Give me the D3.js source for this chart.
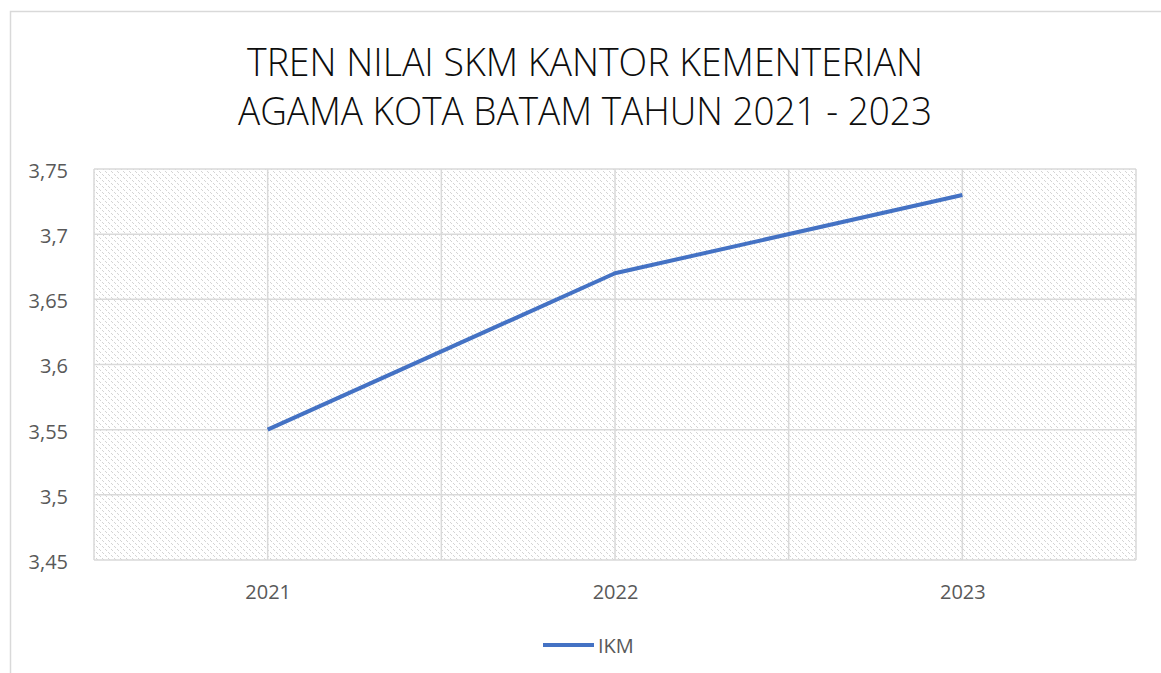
<!DOCTYPE html>
<html>
<head>
<meta charset="utf-8">
<script src="https://cdn.jsdelivr.net/npm/d3@7"></script>
<style>
  body { margin: 0; background: #fff; }
  text { font-family: "Open Sans", "Liberation Sans", sans-serif; }
</style>
</head>
<body>
<div id="chart"></div>
<script>
// data
var years = ["2021", "2022", "2023"];
var ikm = [3.55, 3.67, 3.73];
var yTicks = [3.45, 3.5, 3.55, 3.6, 3.65, 3.7, 3.75];
var titleLines = ["TREN NILAI SKM KANTOR KEMENTERIAN", "AGAMA KOTA BATAM TAHUN 2021 - 2023"];
var seriesName = "IKM";

var W = 1161, H = 673;
var plot = { left: 94, right: 1136, top: 169, bottom: 560 };

var svg = d3.select("#chart").append("svg")
    .attr("width", W)
    .attr("height", H);

// hatch pattern for plot background
var defs = svg.append("defs");
var pat = defs.append("pattern")
    .attr("id", "dots")
    .attr("width", 6).attr("height", 6)
    .attr("patternUnits", "userSpaceOnUse");
pat.append("rect").attr("width", 6).attr("height", 6).attr("fill", "#fff");
[[0, 0], [1, 1], [3, 3], [4, 4]].forEach(function(p) {
  pat.append("rect").attr("x", p[0]).attr("y", p[1]).attr("width", 1).attr("height", 1).attr("fill", "#d4d4d4");
});

// chart frame (goes off page on right/bottom)
svg.append("rect")
    .attr("x", 10.5).attr("y", 11.5)
    .attr("width", W + 20).attr("height", H + 20)
    .attr("fill", "none")
    .attr("stroke", "#d9d9d9")
    .attr("stroke-width", 1.5);

// title
svg.selectAll(".title")
    .data(titleLines)
    .enter().append("text")
    .attr("class", "title")
    .attr("x", 585)
    .attr("y", function(d, i) { return 76 + i * 49; })
    .attr("text-anchor", "middle")
    .attr("font-size", 38)
    .attr("font-weight", 300)
    .attr("fill", "#0d0d0d")
    .attr("textLength", function(d, i) { return i == 0 ? 676 : 694; })
    .attr("lengthAdjust", "spacingAndGlyphs")
    .text(function(d) { return d; });

var x = d3.scalePoint()
    .domain(years)
    .range([plot.left, plot.right])
    .padding(0.5);

var y = d3.scaleLinear()
    .domain([3.45, 3.75])
    .range([plot.bottom, plot.top]);

svg.append("rect")
    .attr("x", plot.left).attr("y", plot.top)
    .attr("width", plot.right - plot.left)
    .attr("height", plot.bottom - plot.top)
    .attr("fill", "url(#dots)");

// gridlines: horizontal
svg.append("g")
    .selectAll("line")
    .data(yTicks)
    .enter().append("line")
    .attr("x1", plot.left).attr("x2", plot.right)
    .attr("y1", function(d) { return y(d); })
    .attr("y2", function(d) { return y(d); })
    .attr("stroke", "#d9d9d9")
    .attr("stroke-width", 1.5);

// vertical gridlines at category centres and boundaries
var step = x.step();
var vlines = [plot.left];
years.forEach(function(d) { vlines.push(x(d)); vlines.push(x(d) + step / 2); });
svg.append("g")
    .selectAll("line")
    .data(vlines)
    .enter().append("line")
    .attr("x1", function(d) { return d; }).attr("x2", function(d) { return d; })
    .attr("y1", plot.top).attr("y2", plot.bottom)
    .attr("stroke", "#d9d9d9")
    .attr("stroke-width", 1.5);

// y axis
var yAxis = d3.axisLeft(y)
    .tickValues(yTicks)
    .tickSize(0)
    .tickPadding(26)
    .tickFormat(function(d) { return String(+d.toFixed(2)).replace(".", ","); });
var gy = svg.append("g")
    .attr("transform", "translate(" + plot.left + ",0)")
    .call(yAxis);
gy.select(".domain").remove();
gy.selectAll("text").attr("font-size", 20).attr("fill", "#595959").attr("dy", "0.42em")
    .style("font-family", "'Open Sans', sans-serif");

// x axis
var xAxis = d3.axisBottom(x).tickSize(0).tickPadding(25);
var gx = svg.append("g")
    .attr("transform", "translate(0," + plot.bottom + ")")
    .call(xAxis);
gx.select(".domain").remove();
gx.selectAll("text").attr("font-size", 20).attr("fill", "#595959")
    .style("font-family", "'Open Sans', sans-serif");

// line
var line = d3.line()
    .x(function(d, i) { return x(years[i]); })
    .y(function(d) { return y(d); });

svg.append("path")
    .datum(ikm)
    .attr("d", line)
    .attr("fill", "none")
    .attr("stroke", "#4472c4")
    .attr("stroke-width", 4)
    .attr("stroke-linejoin", "round");

// legend
var lg = svg.append("g").attr("transform", "translate(543,645)");
lg.append("line")
    .attr("x1", 0).attr("x2", 51)
    .attr("y1", 0).attr("y2", 0)
    .attr("stroke", "#4472c4")
    .attr("stroke-width", 4);
lg.append("text")
    .attr("x", 55).attr("y", 7.5)
    .attr("font-size", 20)
    .attr("fill", "#595959")
    .text(seriesName);
</script>
</body>
</html>
